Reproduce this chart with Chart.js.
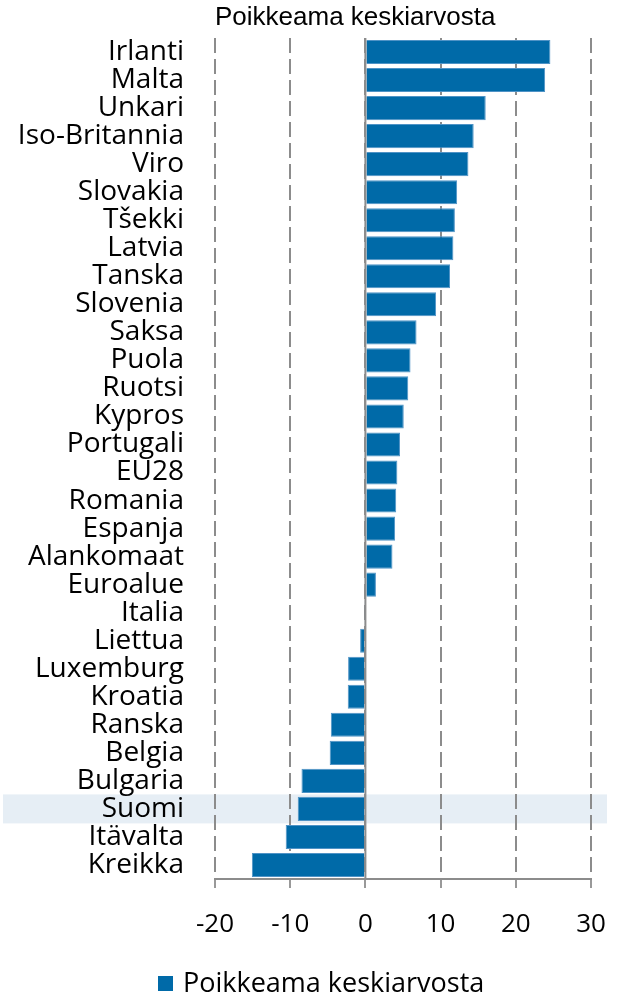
<!DOCTYPE html>
<html>
<head>
<meta charset="utf-8">
<script src="https://cdn.jsdelivr.net/npm/chart.js@4.4.1/dist/chart.umd.min.js"></script>
<style>
  html, body { margin: 0; padding: 0; background: #fff; }
  #wrap { position: relative; width: 625px; height: 995px; }
</style>
</head>
<body>
<div id="wrap"><canvas id="myChart"></canvas></div>
<script>
'use strict';

const countries = ['Irlanti', 'Malta', 'Unkari', 'Iso-Britannia', 'Viro', 'Slovakia', 'Tšekki', 'Latvia',
  'Tanska', 'Slovenia', 'Saksa', 'Puola', 'Ruotsi', 'Kypros', 'Portugali', 'EU28', 'Romania', 'Espanja',
  'Alankomaat', 'Euroalue', 'Italia', 'Liettua', 'Luxemburg', 'Kroatia', 'Ranska', 'Belgia', 'Bulgaria',
  'Suomi', 'Itävalta', 'Kreikka'];
const deviation = [24.6, 23.9, 16.0, 14.4, 13.7, 12.2, 11.9, 11.7, 11.25, 9.4, 6.8, 6.0, 5.7, 5.1, 4.6,
  4.25, 4.1, 3.95, 3.6, 1.4, -0.1, -0.7, -2.3, -2.35, -4.6, -4.75, -8.5, -9.0, -10.6, -15.1];
const xTicks = [-20, -10, 0, 10, 20, 30];
const seriesName = 'Poikkeama keskiarvosta';
const highlighted = 'Suomi';

const barColor = '#006aa8';
const gridColor = '#8c8c8c';

// light band behind the highlighted country row
const highlightBand = {
  id: 'highlightBand',
  beforeDraw(chart) {
    let idx = countries.indexOf(highlighted);
    if (idx < 0) return;
    let y = chart.scales.y.getPixelForValue(idx);
    let ctx = chart.ctx;
    ctx.save();
    ctx.fillStyle = '#e6eef5';
    ctx.fillRect(3, y - 14.5, chart.width - 21, 29);
    ctx.restore();
  },
};

// solid line at zero
const zeroLine = {
  id: 'zeroLine',
  afterDatasetsDraw(chart) {
    let x = chart.scales.x.getPixelForValue(0);
    let area = chart.chartArea;
    let ctx = chart.ctx;
    ctx.save();
    ctx.strokeStyle = gridColor;
    ctx.lineWidth = 2;
    ctx.beginPath();
    ctx.moveTo(x, area.top);
    ctx.lineTo(x, area.bottom);
    ctx.stroke();
    ctx.restore();
  },
};

// legend drawn by hand so it sits where the original has it
const bottomLegend = {
  id: 'bottomLegend',
  afterDraw(chart) {
    let ctx = chart.ctx;
    let ds = chart.data.datasets[0];
    ctx.save();
    ctx.fillStyle = ds.backgroundColor;
    ctx.fillRect(158, 976, 15, 15);
    ctx.fillStyle = '#000';
    ctx.font = '27px "Open Sans"';
    ctx.textBaseline = 'alphabetic';
    ctx.textAlign = 'left';
    ctx.fillText(ds.label, 183, 992);
    ctx.restore();
  },
};

let ctx = document.getElementById('myChart');

new Chart(ctx, {
  type: 'bar',
  data: {
    labels: countries,
    datasets: [
      {
        label: seriesName,
        data: deviation,
        backgroundColor: barColor,
        borderColor: '#4f93c6',
        borderWidth: 1,
        barPercentage: 0.86,
        categoryPercentage: 1,
      },
    ],
  },
  options: {
    indexAxis: 'y',
    responsive: true,
    maintainAspectRatio: false,
    devicePixelRatio: 1,
    animation: false,
    layout: {
      padding: { top: 0, right: 34, bottom: 60, left: 0 },
    },
    plugins: {
      legend: { display: false },
      tooltip: { enabled: false },
      title: {
        display: true,
        text: seriesName,
        align: 'start',
        fullSize: false,
        color: '#000',
        font: { family: '"Liberation Sans"', size: 26, weight: 'normal' },
        padding: { top: 2, bottom: 4.8 },
      },
    },
    scales: {
      x: {
        type: 'linear',
        min: xTicks[0],
        max: xTicks[xTicks.length - 1],
        afterBuildTicks: (scale) => {
          scale.ticks = xTicks.map((v) => ({ value: v }));
        },
        afterFit: (scale) => {
          scale.height = 56;
          scale.paddingLeft = 0;
          scale.paddingRight = 0;
        },
        ticks: {
          color: '#000',
          font: { family: '"Open Sans"', size: 26 },
          padding: 21,
        },
        grid: {
          color: gridColor,
          lineWidth: 2,
          tickLength: 9,
          tickWidth: 2,
          tickColor: '#999',
          tickBorderDash: [],
        },
        border: {
          display: true,
          color: gridColor,
          width: 2,
          dash: [15, 6],
        },
      },
      y: {
        afterFit: (scale) => {
          scale.width = 215;
          scale.paddingTop = 0;
          scale.paddingBottom = 0;
        },
        ticks: {
          color: '#000',
          font: { family: '"Open Sans"', size: 28 },
          padding: 31,
          autoSkip: false,
        },
        grid: { display: false, drawTicks: false },
        border: { display: false },
      },
    },
  },
  plugins: [highlightBand, zeroLine, bottomLegend],
});
</script>
</body>
</html>
